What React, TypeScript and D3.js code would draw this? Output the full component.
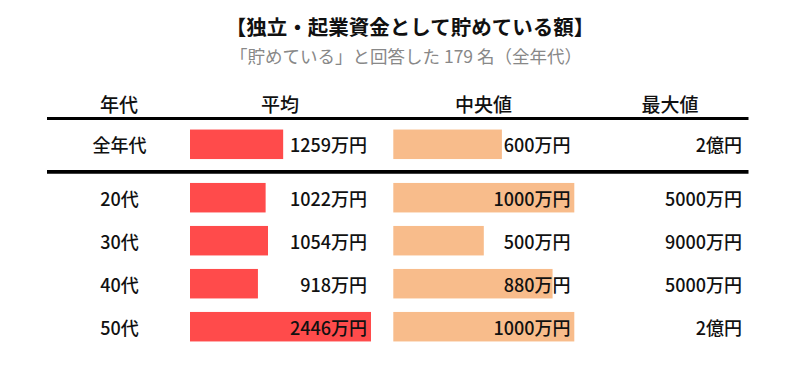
import React from "react";
import * as d3 from "d3";

const title = "【独立・起業資金として貯めている額】";
const subtitle = "「貯めている」と回答した 179 名（全年代）";
const headers = ["年代", "平均", "中央値", "最大値"];
const ages = ["全年代", "20代", "30代", "40代", "50代"];
const averages = [1259, 1022, 1054, 918, 2446];
const medians = [600, 1000, 500, 880, 1000];
const maxLabels = ["2億円", "5000万円", "9000万円", "5000万円", "2億円"];

const W = 800;
const H = 377;
const FONT = "'Noto Sans CJK JP', 'Noto Sans', sans-serif";
const RED = "#FF4B4B";
const PEACH = "#F8BC8B";

export default function App() {
  const barW = 181;
  const xAvg = d3.scaleLinear().domain([0, d3.max(averages) as number]).range([0, barW]);
  const xMed = d3.scaleLinear().domain([0, d3.max(medians) as number]).range([0, barW]);
  const ageBand = d3
    .scaleBand()
    .domain(ages.slice(1))
    .range([176.2, 348.2])
    .paddingInner(0.32)
    .paddingOuter(0.16);
  const rowCenter = (i: number) =>
    i === 0 ? 144.3 : (ageBand(ages[i]) as number) + ageBand.bandwidth() / 2;
  const barH = 29.5;

  const avgX0 = 190;
  const medX0 = 393.3;
  const avgLabelX = 367;
  const medLabelX = 570.5;
  const maxLabelX = 742;
  const ageX = 119.5;
  const headerX = [119, 280, 483.5, 670];
  const rowFont = 18;

  return (
    <svg
      width={W}
      height={H}
      style={{ position: "absolute", left: 0, top: 0, background: "#fff" }}
      fontFamily={FONT}
    >
      <text x={410} y={26} textAnchor="middle" dominantBaseline="central" fontSize={20.5} fontWeight={700} fill="#111">
        {title}
      </text>
      <text x={406} y={55} textAnchor="middle" dominantBaseline="central" fontSize={17.5} fill="#888">
        {subtitle}
      </text>
      {headers.map((h, i) => (
        <text key={h} x={headerX[i]} y={103} textAnchor="middle" dominantBaseline="central" fontSize={19} fontWeight={500} fill="#111">
          {h}
        </text>
      ))}
      <line x1={47} x2={748.5} y1={118.5} y2={118.5} stroke="#000" strokeWidth={3} />
      <line x1={47} x2={748.5} y1={171.8} y2={171.8} stroke="#000" strokeWidth={3.8} />
      {ages.map((a, i) => {
        const cy = rowCenter(i);
        return (
          <g key={a}>
            <text x={ageX} y={cy} textAnchor="middle" dominantBaseline="central" fontSize={rowFont} fontWeight={500} fill="#111">
              {a}
            </text>
            <rect x={avgX0} y={cy - barH / 2} width={xAvg(averages[i])} height={barH} fill={RED} />
            <text x={avgLabelX} y={cy} textAnchor="end" dominantBaseline="central" fontSize={rowFont} fontWeight={500} fill="#111">
              {averages[i] + "万円"}
            </text>
            <rect x={medX0} y={cy - barH / 2} width={xMed(medians[i])} height={barH} fill={PEACH} />
            <text x={medLabelX} y={cy} textAnchor="end" dominantBaseline="central" fontSize={rowFont} fontWeight={500} fill="#111">
              {medians[i] + "万円"}
            </text>
            <text x={maxLabelX} y={cy} textAnchor="end" dominantBaseline="central" fontSize={rowFont} fontWeight={500} fill="#111">
              {maxLabels[i]}
            </text>
          </g>
        );
      })}
    </svg>
  );
}
